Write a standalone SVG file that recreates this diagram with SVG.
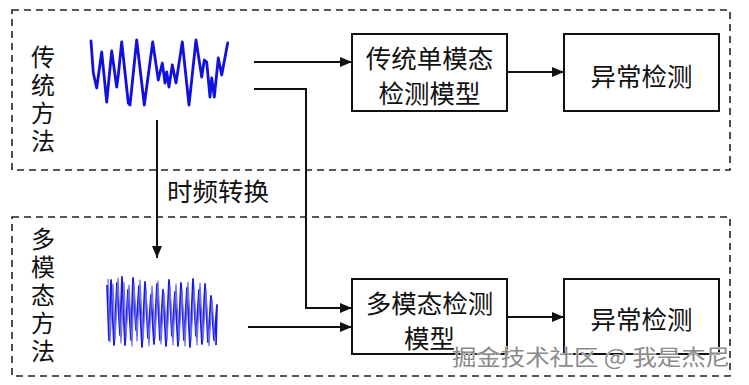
<svg xmlns="http://www.w3.org/2000/svg" width="749" height="385" viewBox="0 0 749 385">
<style>
text{font-family:"Noto Sans CJK SC","Liberation Serif",serif;fill:#111;dominant-baseline:central;text-anchor:middle}
.vl{font-size:24px;writing-mode:vertical-rl;letter-spacing:4px}
.bt{font-size:25.5px}
.box{fill:#fff;stroke:#111;stroke-width:2}
.grp{fill:none;stroke:#222;stroke-width:1.6;stroke-dasharray:7 5}
.con{fill:none;stroke:#111;stroke-width:2}
.wave{fill:none;stroke:#1010e0;stroke-width:2.8;stroke-linejoin:round;stroke-linecap:round}
.wm{font-size:22px;fill:#8a8a8a;stroke:#fff;stroke-width:0.8;paint-order:stroke;text-anchor:start}
</style>
<defs>
<marker id="ah" viewBox="0 0 12 10" refX="12" refY="5" markerWidth="12" markerHeight="10" markerUnits="userSpaceOnUse" orient="auto">
<path d="M0,0 L12,5 L0,10 Z" fill="#111"/>
</marker>
</defs>
<rect id="group-traditional" class="grp" x="12" y="10" width="718" height="160"/>
<rect id="group-multimodal" class="grp" x="12" y="217" width="718" height="159"/>
<g id="label-traditional">
<text class="vl" x="43" y="101">传统方法</text>
</g>
<g id="label-multimodal">
<text class="vl" x="43" y="297">多模态方法</text>
</g>
<g id="signal-1d">
<polyline class="wave" points="91,41 93.3,73 96.7,88 101.7,52 106.7,102 111.7,51 116.7,87 118.3,75 121.7,42 128.3,103 130,105 136.7,40 144.3,105 152.7,42 158.3,80 162.3,63 165,83 166.7,72 169,87 172.3,65 176,83 182.3,42 189,105 196,40 201.7,77 204.3,60 206.7,62 210,97 211.7,78 214.3,97 218.3,58 221.7,75 227.7,43"/>
</g>
<g id="signal-tf">
<polyline fill="none" stroke="#1a1ae8" stroke-width="1.8" stroke-linejoin="round" points="107,285 109,340 111,280 114,345 117,283 120,335 122,277 125,345 128,290 131,340 133,278 136,330 139,286 142,347 145,282 148,338 151,295 154,344 157,284 160,340 163,290 166,346 169,280 172,336 175,292 178,346 181,283 184,340 187,288 190,347 193,279 196,336 199,290 202,344 205,284 208,342 211,296 214,340 217,305 216,345"/>
<polyline fill="none" stroke="#6a6af0" stroke-width="1.2" stroke-linejoin="round" points="108,279 110,342 113,284 115,340 118,278 121,343 124,282 126,338 129,285 132,346 134,283 137,341 140,280 143,340 146,290 149,346 152,286 155,338 158,281 161,344 164,293 167,340 170,286 173,345 176,284 179,341 182,290 185,346 188,282 191,340 194,289 197,345 200,283 203,340 206,290 209,346 212,300 215,342"/>
</g>
<g id="node-trad-model">
<rect class="box" x="352" y="34" width="155" height="77"/>
<text class="bt"><tspan x="429.5" y="56">传统单模态</tspan><tspan x="429.5" y="91">检测模型</tspan></text>
</g>
<g id="node-anomaly-1">
<rect class="box" x="564" y="34" width="155" height="77"/>
<text class="bt" x="641.5" y="74">异常检测</text>
</g>
<g id="node-mm-model">
<rect class="box" x="352" y="279" width="155" height="75"/>
<text class="bt"><tspan x="429.5" y="300.5">多模态检测</tspan><tspan x="429.5" y="336">模型</tspan></text>
</g>
<g id="node-anomaly-2">
<rect class="box" x="564" y="279" width="155" height="75"/>
<text class="bt" x="641.5" y="317">异常检测</text>
</g>
<g id="connectors">
<line class="con" x1="254" y1="62" x2="352" y2="62" marker-end="url(#ah)"/>
<line class="con" x1="507" y1="72" x2="564" y2="72" marker-end="url(#ah)"/>
<polyline class="con" points="254,89 306,89 306,308 352,308" marker-end="url(#ah)"/>
<line class="con" x1="157" y1="120" x2="157" y2="258" marker-end="url(#ah)"/>
<text class="bt" x="218" y="189">时频转换</text>
<line class="con" x1="248" y1="327" x2="352" y2="327" marker-end="url(#ah)"/>
<line class="con" x1="507" y1="317" x2="564" y2="317" marker-end="url(#ah)"/>
</g>
<text class="wm" x="452" y="355" textLength="278" lengthAdjust="spacingAndGlyphs">掘金技术社区 @ 我是杰尼</text>
</svg>
